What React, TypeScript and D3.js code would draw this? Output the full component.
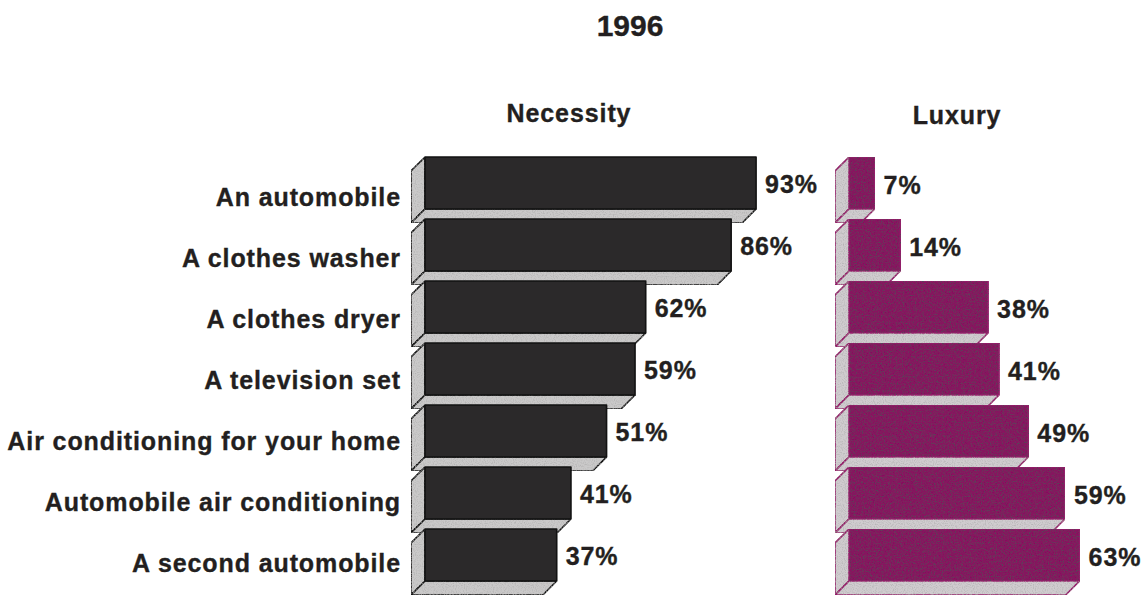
import React from "react";
import * as d3 from "d3";

const categories = [
  "An automobile",
  "A clothes washer",
  "A clothes dryer",
  "A television set",
  "Air conditioning for your home",
  "Automobile air conditioning",
  "A second automobile",
];
const necessity = [93, 86, 62, 59, 51, 41, 37];
const luxury = [7, 14, 38, 41, 49, 59, 63];
const title = "1996";
const seriesNames = ["Necessity", "Luxury"];

const W = 1147;
const H = 595;
const FONT = "'Liberation Sans', Arial, Helvetica, sans-serif";

const y = d3
  .scaleBand<string>()
  .domain(categories)
  .range([157, 157 + categories.length * 62])
  .paddingInner(0)
  .paddingOuter(0);

const labelY = d3
  .scalePoint<string>()
  .domain(categories)
  .range([206, 572]);

const FRONT_H = 52;
const DEPTH = 14;

const xNec = d3.scaleLinear().domain([0, 100]).range([425, 425 + 356]);
const xLux = d3.scaleLinear().domain([0, 100]).range([849, 849 + 366]);

type BarProps = {
  x0: number;
  x1: number;
  top: number;
  front: string;
  side: string;
  stroke: string;
  filter?: string;
};

function Bar3D({ x0, x1, top, front, side, stroke, filter }: BarProps) {
  const bottom = top + FRONT_H;
  const d = DEPTH;
  const left = [
    [x0, top],
    [x0 - d, top + d],
    [x0 - d, bottom + d],
    [x0, bottom],
  ];
  const under = [
    [x0, bottom],
    [x1, bottom],
    [x1 - d, bottom + d],
    [x0 - d, bottom + d],
  ];
  const pts = (p: number[][]) => p.map((q) => q.join(",")).join(" ");
  return (
    <g stroke={stroke} strokeWidth={1.6} strokeLinejoin="round">
      <polygon points={pts(left)} fill={side} filter="url(#greyNoise)" />
      <polygon points={pts(under)} fill={side} filter="url(#greyNoise)" />
      <rect x={x0} y={top} width={x1 - x0} height={FRONT_H} fill={front} filter={filter} />
    </g>
  );
}

const textStyle = {
  fontFamily: FONT,
  fontWeight: "bold" as const,
  fill: "#231f20",
  stroke: "#231f20",
  strokeWidth: 0.35,
};

export default function App() {
  return (
    <svg
      width={W}
      height={H}
      viewBox={`0 0 ${W} ${H}`}
      style={{ position: "absolute", left: 0, top: 0, background: "#ffffff" }}
    >
      <defs>
        <filter id="speckle" x="0" y="0" width="100%" height="100%">
          <feTurbulence type="fractalNoise" baseFrequency="0.85" numOctaves="2" seed="7" result="n" />
          <feColorMatrix
            in="n"
            type="matrix"
            values="0 0 0 0 0.1  0 0 0 0 0.05  0 0 0 0 0.1  4 0 0 0 -2.0"
            result="dots"
          />
          <feComposite in="dots" in2="SourceAlpha" operator="in" result="dotsIn" />
          <feMerge>
            <feMergeNode in="SourceGraphic" />
            <feMergeNode in="dotsIn" />
          </feMerge>
        </filter>
        <filter id="greyNoise" x="0" y="0" width="100%" height="100%">
          <feTurbulence type="fractalNoise" baseFrequency="0.9" numOctaves="1" seed="3" result="n" />
          <feColorMatrix
            in="n"
            type="matrix"
            values="0 0 0 0 0.4  0 0 0 0 0.4  0 0 0 0 0.4  2 0 0 0 -0.9"
            result="dots"
          />
          <feComposite in="dots" in2="SourceAlpha" operator="in" result="dotsIn" />
          <feMerge>
            <feMergeNode in="SourceGraphic" />
            <feMergeNode in="dotsIn" />
          </feMerge>
        </filter>
      </defs>

      <text x={630} y={36} textAnchor="middle" fontSize={30} {...textStyle}>
        {title}
      </text>
      <text x={569} y={122} textAnchor="middle" fontSize={25} letterSpacing={0.9} {...textStyle}>
        {seriesNames[0]}
      </text>
      <text x={957} y={124} textAnchor="middle" fontSize={25} letterSpacing={0.9} {...textStyle}>
        {seriesNames[1]}
      </text>

      {categories.map((c, i) => {
        const top = y(c)!;
        return (
          <g key={c}>
            <Bar3D
              x0={xNec(0)}
              x1={xNec(necessity[i])}
              top={top}
              front="#2b292a"
              side="#cac9c9"
              stroke="#121212"
            />
            <Bar3D
              x0={xLux(0)}
              x1={xLux(luxury[i])}
              top={top}
              front="#86195e"
              side="#d0cccf"
              stroke="#951c6b"
              filter="url(#speckle)"
            />
          </g>
        );
      })}

      {categories.map((c, i) => {
        const top = y(c)!;
        return (
          <g key={"t" + c}>
            <text x={401} y={labelY(c)!} textAnchor="end" fontSize={25} letterSpacing={0.9} {...textStyle}>
              {c}
            </text>
            <text x={xNec(necessity[i]) + 9} y={top + 36} fontSize={25} letterSpacing={0.9} {...textStyle}>
              {necessity[i]}%
            </text>
            <text x={xLux(luxury[i]) + 9} y={top + 37} fontSize={25} letterSpacing={0.9} {...textStyle}>
              {luxury[i]}%
            </text>
          </g>
        );
      })}
    </svg>
  );
}
